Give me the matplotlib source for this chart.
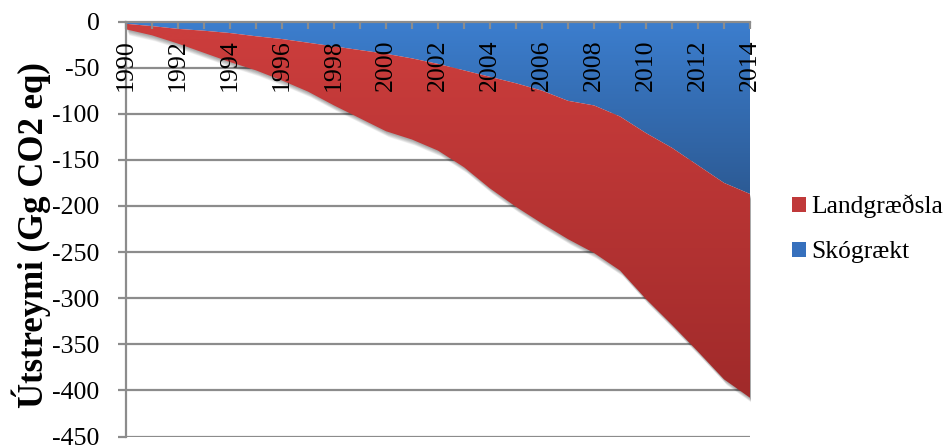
import numpy as np
import matplotlib
matplotlib.use("Agg")
import matplotlib.pyplot as plt
from matplotlib.patches import Patch
from matplotlib.colors import to_rgb
import matplotlib.transforms as mtransforms

plt.rcParams['font.family'] = ['Liberation Serif', 'DejaVu Serif']
plt.rcParams['axes.unicode_minus'] = False

years = list(range(1990, 2015))
skograekt = [-2.5, -5, -8, -10, -12.5, -16, -19, -23, -27, -31, -35, -40, -46,
             -53, -60, -67, -75, -86, -91, -103, -121, -137, -156, -175, -187]
landgraedsla = [-6, -10, -16, -24, -31.5, -37, -45, -53, -64, -74, -84, -88, -94,
                -105, -121, -134, -144, -150, -160, -167, -180, -192, -202, -213, -221]
series_labels = ['Landgræðsla', 'Skógrækt']
ylabel = 'Útstreymi (Gg CO2 eq)'
yticks = list(range(-450, 1, 50))

yr = np.array(years, dtype=float)
sk = np.array(skograekt, dtype=float)
tot = sk + np.array(landgraedsla, dtype=float)

W, H = 951, 445
fig = plt.figure(figsize=(W / 100, H / 100), dpi=100)
ax = fig.add_axes([126 / W, 8.5 / H, 624 / W, 415 / H])

ax.set_xlim(1990, 2014)
ax.set_ylim(-450, 0)

# soft shadow under red area
for i in range(1, 8):
    tr = mtransforms.offset_copy(ax.transData, fig=fig, x=i * 0.4, y=-i * 0.8, units='dots')
    ax.fill_between(yr, sk, tot, color='black', alpha=0.055, lw=0, transform=tr, zorder=1.5)

def gradient_fill(y1, y2, top_col, bot_col, ytop, ybot):
    coll = ax.fill_between(yr, y1, y2, lw=0, facecolor='none', zorder=2)
    path = coll.get_paths()[0]
    n = 400
    ys = np.linspace(0, -450, n)
    t = np.clip((ys - ytop) / (ybot - ytop), 0, 1)[:, None]
    c1 = np.array(to_rgb(top_col)); c2 = np.array(to_rgb(bot_col))
    img = (c1 * (1 - t) + c2 * t)[:, None, :]
    im = ax.imshow(img, extent=[1990, 2014, -450, 0], aspect='auto',
                   origin='upper', zorder=2, interpolation='bilinear')
    im.set_clip_path(path, transform=ax.transData)

gradient_fill(np.zeros_like(sk), sk, '#3c7ece', '#2c5a94', 0, -190)
gradient_fill(sk, tot, '#cb3d3c', '#a02a2a', -20, -410)

ax.set_xlim(1990, 2014)
ax.set_ylim(-450, 0)

gray = '#8c8c8c'
ax.set_yticks(yticks)
ax.set_yticklabels([str(v) for v in yticks])
ax.yaxis.grid(True, color=gray, lw=1.6)
ax.yaxis.set_zorder(0.5)
ax.xaxis.set_zorder(5)

ax.spines['top'].set_visible(False)
ax.spines['right'].set_visible(False)
ax.spines['bottom'].set_position(('data', 0))
ax.spines['bottom'].set_color(gray)
ax.spines['bottom'].set_linewidth(1.6)
ax.spines['bottom'].set_zorder(5)
ax.spines['left'].set_color(gray)
ax.spines['left'].set_linewidth(1.6)
ax.spines['left'].set_zorder(5)

ax.set_xticks(years, minor=True)
ax.set_xticks(years[::2])
ax.set_xticklabels([str(y) for y in years[::2]], rotation=90)
ax.tick_params(axis='x', which='both', direction='out', length=5, width=1.6,
               color=gray, pad=8, labelsize=18.6)
ax.tick_params(axis='y', direction='out', length=6, width=1.6, color=gray,
               pad=13, labelsize=18.6)
for lbl in ax.get_xticklabels():
    lbl.set_verticalalignment('top')

fig.text(31 / W, 1 - 235 / H, ylabel, rotation=90, ha='center', va='center',
         fontsize=25, fontweight='bold')

handles = [Patch(facecolor='#c0393a'), Patch(facecolor='#3670bd')]
fig.legend(handles, series_labels, loc='center left',
           bbox_to_anchor=(792 / W, 1 - 229 / H), bbox_transform=fig.transFigure,
           frameon=False, fontsize=18.4, handlelength=0.55, handleheight=0.55,
           handletextpad=0.2, labelspacing=0.9, borderpad=0, borderaxespad=0)

fig.savefig('out.png', dpi=100)
